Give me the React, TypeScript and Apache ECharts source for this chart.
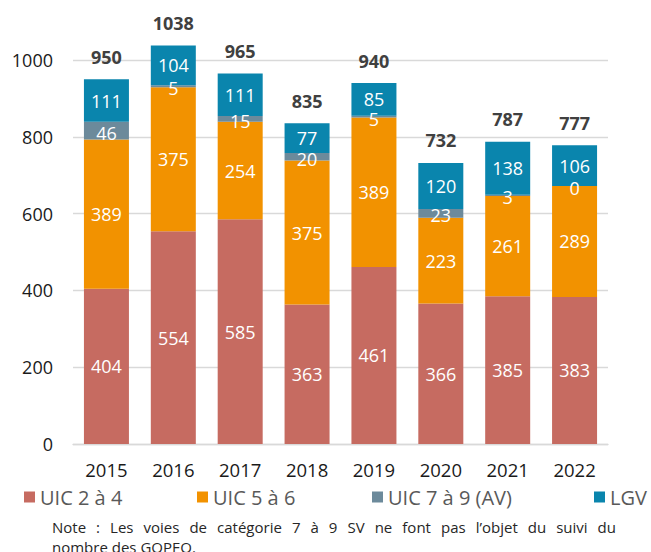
import React, { useEffect, useRef } from "react";
import * as echarts from "echarts";

const years = ["2015", "2016", "2017", "2018", "2019", "2020", "2021", "2022"];
const uic24 = [404, 554, 585, 363, 461, 366, 385, 383];
const uic56 = [389, 375, 254, 375, 389, 223, 261, 289];
const uic79 = [46, 5, 15, 20, 5, 23, 3, 0];
const lgv = [111, 104, 111, 77, 85, 120, 138, 106];
const totals = [950, 1038, 965, 835, 940, 732, 787, 777];
const seriesNames = ["UIC 2 à 4", "UIC 5 à 6", "UIC 7 à 9 (AV)", "LGV"];
const noteLine1 = "Note : Les voies de catégorie 7 à 9 SV ne font pas l’objet du suivi du";
const noteLine2 = "nombre des GOPEQ.";

const FONT = '"Open Sans", "Noto Sans", sans-serif';
const colors = ["#C66B61", "#F29200", "#6C8A9B", "#0A85AD"];

function justifiedWords(text: string, x0: number, x1: number, y: number, fontSize: number) {
  const words = text.split(" ");
  const canvas = document.createElement("canvas");
  const ctx = canvas.getContext("2d")!;
  ctx.font = `${fontSize}px "Open Sans"`;
  const widths = words.map((w) => ctx.measureText(w).width);
  const sum = widths.reduce((a, b) => a + b, 0);
  const gap = (x1 - x0 - sum) / (words.length - 1);
  let x = x0;
  return words.map((w, i) => {
    const el = {
      type: "text",
      x,
      y,
      style: { text: w, fontSize, fontFamily: FONT, fill: "#262626", verticalAlign: "middle", align: "left" },
    };
    x += widths[i] + gap;
    return el;
  });
}

export default function App() {
  const ref = useRef<HTMLDivElement>(null);
  useEffect(() => {
    const chart = echarts.init(ref.current!, null, { renderer: "svg" });
    const innerLabel = { show: true, position: "inside", color: "#ffffff", fontSize: 18, fontFamily: FONT };
    const datasets = [uic24, uic56, uic79, lgv];
    const legendLefts = [24, 197, 372, 594];
    chart.setOption({
      animation: false,
      textStyle: { fontFamily: FONT },
      grid: { left: 73, right: 43, top: 60, bottom: 108, containLabel: false },
      legend: seriesNames.map((n, i) => ({
        data: [n],
        left: legendLefts[i],
        top: 487,
        padding: 0,
        itemWidth: 11,
        itemHeight: 11,
        icon: "rect",
        textStyle: { fontSize: 20, color: "#595959", fontFamily: FONT },
      })),
      xAxis: {
        type: "category",
        data: years,
        axisLine: { lineStyle: { color: "#D9D9D9", width: 1.3 } },
        axisTick: { show: false },
        axisLabel: { fontSize: 18.5, color: "#1A1A1A", margin: 16, fontFamily: FONT },
      },
      yAxis: {
        type: "value",
        min: 0,
        max: 1000,
        interval: 200,
        axisLine: { show: false },
        axisTick: { show: false },
        axisLabel: {
          fontSize: 18,
          color: "#1A1A1A",
          margin: 20,
          fontFamily: FONT,
          formatter: (v: number) => String(v),
        },
        splitLine: { lineStyle: { color: "#D9D9D9", width: 1.3 } },
      },
      series: [
        ...datasets.map((d, i) => ({
          name: seriesNames[i],
          type: "bar",
          stack: "all",
          data: d,
          barWidth: 45,
          clip: false,
          itemStyle: { color: colors[i] },
          label: i === 2 ? { ...innerLabel, offset: [0, 2] } : innerLabel,
        })),
        {
          name: "total",
          type: "line",
          data: totals,
          symbol: "circle",
          symbolSize: 1,
          showSymbol: true,
          itemStyle: { color: "transparent" },
          lineStyle: { width: 0, opacity: 0 },
          clip: false,
          label: {
            show: true,
            position: "top",
            distance: 13,
            fontSize: 18,
            fontWeight: "bold",
            color: "#404040",
            fontFamily: FONT,
          },
          z: 10,
        },
      ],
      graphic: [
        ...justifiedWords(noteLine1, 52, 616, 527, 15),
        {
          type: "text",
          x: 52,
          y: 547,
          style: { text: noteLine2, fontSize: 15, fontFamily: FONT, fill: "#262626", verticalAlign: "middle" },
        },
      ],
    });
    return () => chart.dispose();
  }, []);
  return <div ref={ref} style={{ width: 651, height: 552, position: "absolute", left: 0, top: 0 }} />;
}
